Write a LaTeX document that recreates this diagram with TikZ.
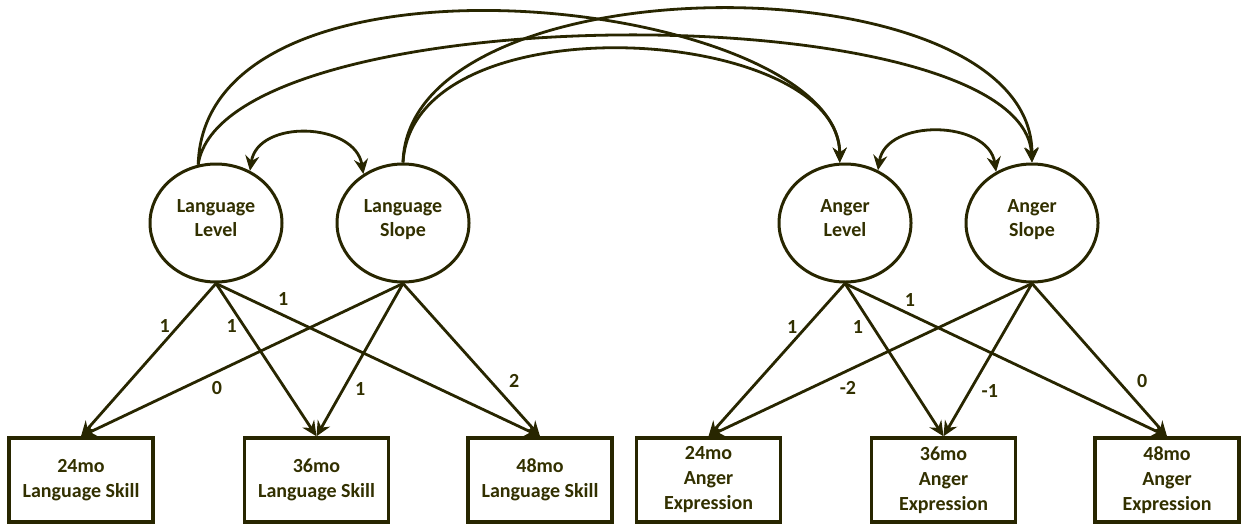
\documentclass[tikz,border=0pt]{standalone}
\usepackage{fontspec}
\setmainfont{Carlito}
\usetikzlibrary{shapes.geometric,arrows.meta}
\definecolor{ink}{RGB}{40,38,0}
\definecolor{inktext}{RGB}{50,48,0}
\begin{document}
\begin{tikzpicture}[x=1pt,y=-1pt,
  latent/.style={ellipse,draw=ink,line width=3pt,minimum width=132pt,minimum height=118pt,
    inner sep=0pt,align=center,text depth=10pt,text=inktext,font=\bfseries\fontsize{20}{24}\selectfont},
  obs/.style={rectangle,draw=ink,line width=3.4pt,minimum width=144pt,minimum height=84pt,
    inner sep=0pt,align=center,text=inktext,font=\bfseries\fontsize{20}{25}\selectfont},
  tip/.tip={Stealth[length=15pt,width=14pt,inset=5pt]},
  path/.style={draw=ink,line width=2.8pt,-tip},
  cov/.style={draw=ink,line width=2.8pt,tip-tip},
  lbl/.style={inner sep=0pt,text=inktext,font=\bfseries\fontsize{20}{24}\selectfont}]
\useasboundingbox (0,0) rectangle (1246,525);

% latent growth factors
\node[latent] (LL) at (216,223) {Language\\Level};
\node[latent] (LS) at (403,223) {Language\\Slope};
\node[latent] (AL) at (845,223) {Anger\\Level};
\node[latent] (AS) at (1032,223) {Anger\\Slope};

% observed measures
\node[obs] (L24) at (81,480)    {24mo\\Language Skill};
\node[obs] (L36) at (316.5,480) {36mo\\Language Skill};
\node[obs] (L48) at (540,480)   {48mo\\Language Skill};
\node[obs] (A24) at (708.5,480) {24mo\\Anger\\Expression};
\node[obs] (A36) at (943.5,480) {36mo\\Anger\\Expression};
\node[obs] (A48) at (1167,480)  {48mo\\Anger\\Expression};

% cross-domain paths between growth factors
\draw[path] (LL.107) .. controls +(7,-240) and +(0,-163) .. (AL.95);
\draw[path] (LS.90)  .. controls +(5,-205) and +(0,-205) .. (AS.90);
\draw[path] (LL.107) .. controls +(25,-170) and +(-10,-170) .. (AS.90);
\draw[path] (LS.90)  .. controls +(10,-165) and +(0,-138) .. (AL.95);

% within-domain covariances
\draw[cov] (LL.57) .. controls +(8,-52) and +(-8,-52) .. (LS.129);
\draw[cov] (AL.58) .. controls +(8,-52) and +(-8,-52) .. (AS.125);

% language loadings
\draw[path] (LL.south) -- node[lbl,pos=.276,xshift=-14pt] {1} (L24.north);
\draw[path] (LL.south) -- node[lbl,pos=.276,xshift=-12pt] {1} (L36.north);
\draw[path] (LL.south) -- node[lbl,pos=.207,yshift=16pt] {1} (L48.north);
\draw[path] (LS.south) -- node[lbl,pos=.578,yshift=-16pt] {0} (L24.north);
\draw[path] (LS.south) -- node[lbl,pos=.692,xshift=17pt] {1} (L36.north);
\draw[path] (LS.south) -- node[lbl,pos=.637,xshift=24pt] {2} (L48.north);

% anger loadings
\draw[path] (AL.south) -- node[lbl,pos=.284,xshift=-14pt] {1} (A24.north);
\draw[path] (AL.south) -- node[lbl,pos=.284,xshift=-15pt] {1} (A36.north);
\draw[path] (AL.south) -- node[lbl,pos=.202,yshift=14pt] {1} (A48.north);
\draw[path] (AS.south) -- node[lbl,pos=.569,yshift=-17pt] {-2} (A24.north);
\draw[path] (AS.south) -- node[lbl,pos=.703,xshift=20pt] {-1} (A36.north);
\draw[path] (AS.south) -- node[lbl,pos=.639,xshift=24pt] {0} (A48.north);
\end{tikzpicture}
\end{document}
